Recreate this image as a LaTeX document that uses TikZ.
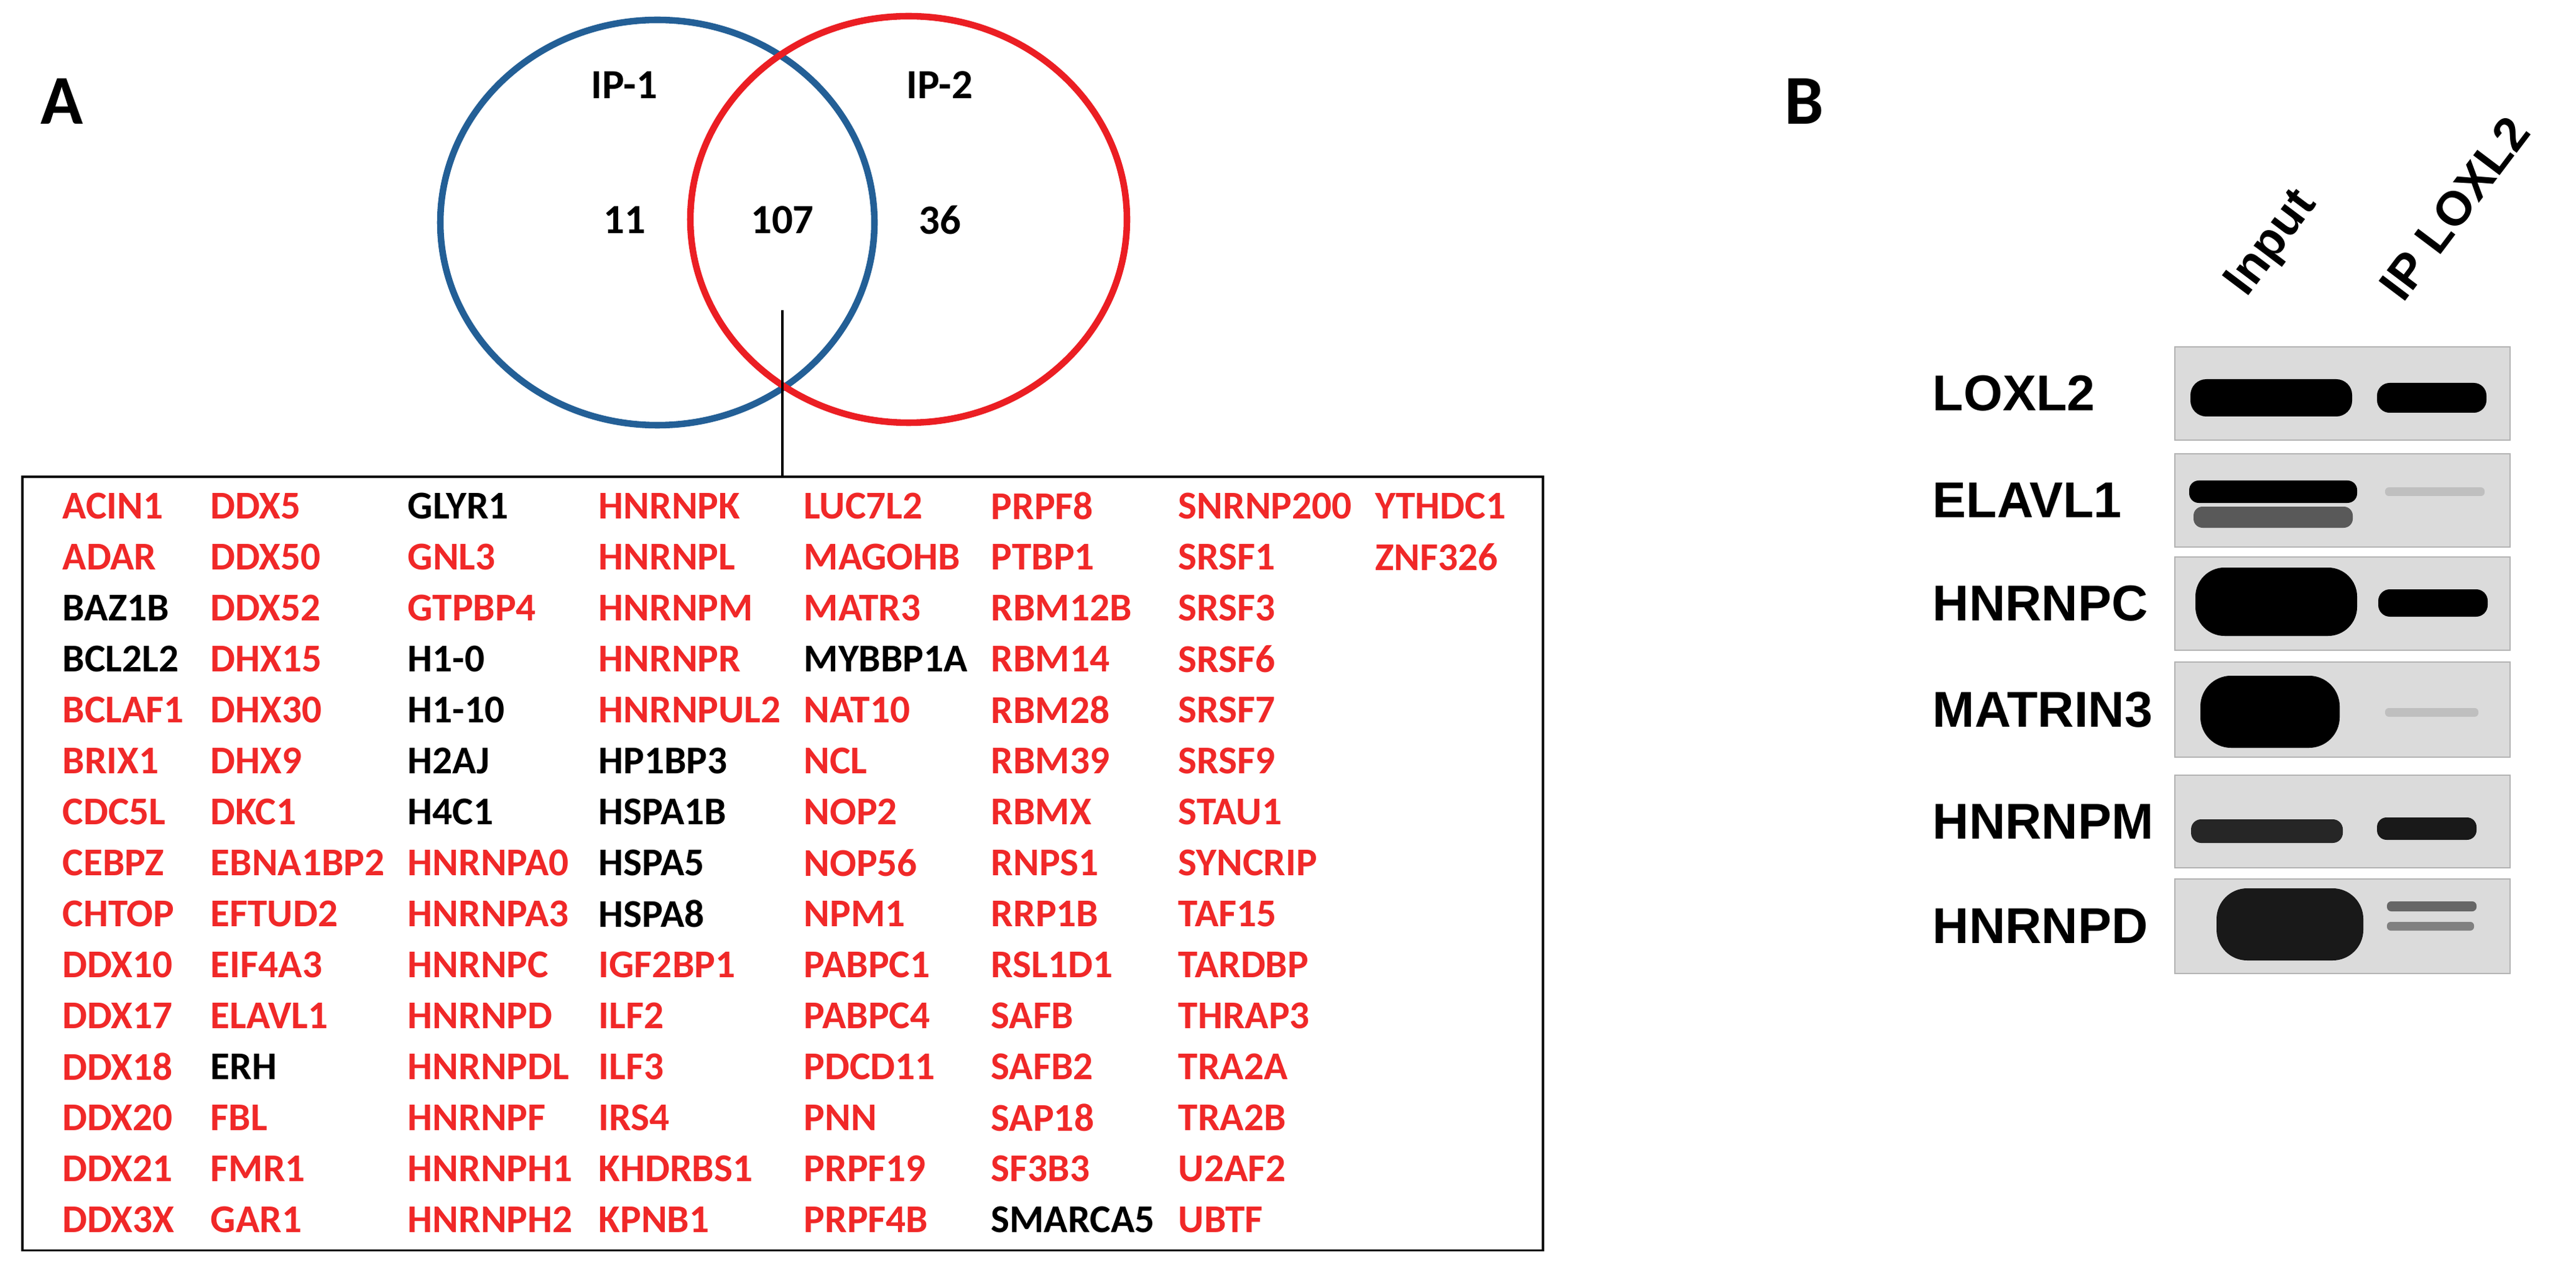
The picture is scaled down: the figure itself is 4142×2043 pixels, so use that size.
\documentclass[tikz,border=0pt]{standalone}
\usepackage{fontspec}
\setmainfont{Carlito}
\newfontfamily\arialf{Liberation Sans}
\definecolor{r}{RGB}{240,40,40}
\definecolor{k}{RGB}{0,0,0}
\definecolor{vblue}{RGB}{35,95,150}
\definecolor{vred}{RGB}{235,30,35}
\tikzset{
 gene/.style={anchor=west,inner sep=0pt,font=\fontsize{18}{20}\selectfont\bfseries},
 vlab/.style={inner sep=0pt,font=\fontsize{19}{22}\selectfont\bfseries},
 panel/.style={inner sep=0pt,font=\fontsize{32}{36}\selectfont\bfseries},
 blab/.style={anchor=west,inner sep=0pt,font=\arialf\fontsize{23}{27}\selectfont\bfseries},
 lane/.style={anchor=south west,inner sep=0pt,rotate=53,font=\arialf\fontsize{22}{26}\selectfont\bfseries},
 membrane/.style={fill=black!14,draw=black!30,line width=0.5pt},
}
\newcommand{\bnd}[5]{\fill[#1,rounded corners={#5*0.0085cm}] ({#2-#4},{#3-#5}) rectangle ({#2+#4},{#3+#5});}
\begin{document}
\begin{tikzpicture}[x=0.01cm,y=-0.01cm]
\useasboundingbox (0,0) rectangle (4142,2043);
% Panel A
\node[panel] (A) at (100,163) {A};
\draw[vblue,line width=3pt] (1057,358) ellipse [x radius=349,y radius=326];
\draw[vred,line width=3pt] (1461,353) ellipse [x radius=351,y radius=327];
\node[vlab] (ip1) at (1004,137) {IP-1};
\node[vlab] (ip2) at (1511,137) {IP-2};
\node[vlab] (n11) at (1004,354) {11};
\node[vlab] (n107) at (1258,354) {107};
\node[vlab] (n36) at (1511,354) {36};
\coordinate (lt) at (1258,499);
\node[draw,line width=1pt,minimum width=24.44cm,minimum height=12.44cm,inner sep=0pt,anchor=north west] (box) at (34,765) {};
\draw[line width=1pt] (lt) -- (lt |- box.north);
\foreach \col [count=\ci] in {
 {r/ACIN1,r/ADAR,k/BAZ1B,k/BCL2L2,r/BCLAF1,r/BRIX1,r/CDC5L,r/CEBPZ,r/CHTOP,r/DDX10,r/DDX17,r/DDX18,r/DDX20,r/DDX21,r/DDX3X},
 {r/DDX5,r/DDX50,r/DDX52,r/DHX15,r/DHX30,r/DHX9,r/DKC1,r/EBNA1BP2,r/EFTUD2,r/EIF4A3,r/ELAVL1,k/ERH,r/FBL,r/FMR1,r/GAR1},
 {k/GLYR1,r/GNL3,r/GTPBP4,k/H1-0,k/H1-10,k/H2AJ,k/H4C1,r/HNRNPA0,r/HNRNPA3,r/HNRNPC,r/HNRNPD,r/HNRNPDL,r/HNRNPF,r/HNRNPH1,r/HNRNPH2},
 {r/HNRNPK,r/HNRNPL,r/HNRNPM,r/HNRNPR,r/HNRNPUL2,k/HP1BP3,k/HSPA1B,k/HSPA5,k/HSPA8,r/IGF2BP1,r/ILF2,r/ILF3,r/IRS4,r/KHDRBS1,r/KPNB1},
 {r/LUC7L2,r/MAGOHB,r/MATR3,k/MYBBP1A,r/NAT10,r/NCL,r/NOP2,r/NOP56,r/NPM1,r/PABPC1,r/PABPC4,r/PDCD11,r/PNN,r/PRPF19,r/PRPF4B},
 {r/PRPF8,r/PTBP1,r/RBM12B,r/RBM14,r/RBM28,r/RBM39,r/RBMX,r/RNPS1,r/RRP1B,r/RSL1D1,r/SAFB,r/SAFB2,r/SAP18,r/SF3B3,k/SMARCA5},
 {r/SNRNP200,r/SRSF1,r/SRSF3,r/SRSF6,r/SRSF7,r/SRSF9,r/STAU1,r/SYNCRIP,r/TAF15,r/TARDBP,r/THRAP3,r/TRA2A,r/TRA2B,r/U2AF2,r/UBTF},
 {r/YTHDC1,r/ZNF326}}
{
 \pgfmathsetmacro{\cx}{{100,338,655,962,1292,1593,1894,2211}[\ci-1]}
 \foreach \cl/\g [count=\ri] in \col {
  \node[gene,text=\cl] (g\ci-\ri) at (\cx,{814+82*(\ri-1)}) {\g};
 }
}
% Panel B
\node[panel] (B) at (2901,163) {B};
\node[lane] (inp) at (3625,490) {Input};
\node[lane] (iplox) at (3865,490) {IP LOXL2};
\foreach \t/\b/\lab [count=\i] in {558/708/LOXL2,730/880/ELAVL1,896/1046/HNRNPC,1065/1218/MATRIN3,1247/1396/HNRNPM,1414/1566/HNRNPD}{
 \draw[membrane] (3497,\t) rectangle (4036,\b);
 \node[blab] (lab\i) at (3107,{(\t+\b)/2}) {\lab};
}
% bands
\bnd{black}{3652}{640}{130}{30}
\bnd{black}{3910}{640}{88}{24}
\bnd{black}{3655}{791}{135}{18}
\bnd{black!65}{3655}{832}{128}{17}
\bnd{black!25}{3915}{791}{80}{7}
\bnd{black}{3660}{968}{130}{55}
\bnd{black}{3912}{970}{88}{22}
\bnd{black}{3650}{1145}{112}{58}
\bnd{black!25}{3910}{1146}{75}{7}
\bnd{black!85}{3645}{1337}{122}{19}
\bnd{black!90}{3902}{1333}{80}{18}
\bnd{black!90}{3682}{1487}{118}{58}
\bnd{black!60}{3910}{1458}{72}{8}
\bnd{black!50}{3908}{1490}{70}{7}
\end{tikzpicture}
\end{document}
